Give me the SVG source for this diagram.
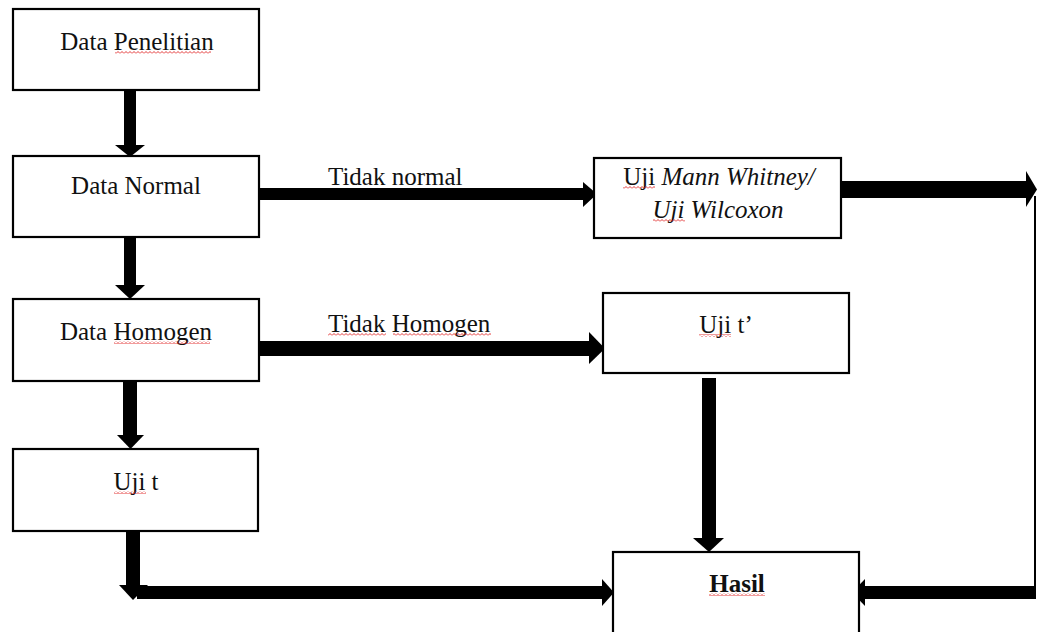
<svg xmlns="http://www.w3.org/2000/svg" width="1038" height="632" viewBox="0 0 1038 632">
<defs>
<style>
.box{fill:#fff;stroke:#000;stroke-width:2.2}
.t{font-family:"Liberation Serif","Times New Roman",serif;font-size:25px;fill:#111}
.c{text-anchor:middle}
.arr{fill:#000}
.sq{fill:url(#sq)}
</style>
<pattern id="sq" x="0" y="0" width="4" height="3" patternUnits="userSpaceOnUse">
<path d="M0 2.5 L2 0.5 L4 2.5" fill="none" stroke="#e02020" stroke-width="0.9"/>
</pattern>
</defs>
<rect width="1038" height="632" fill="#fff"/>

<g id="connectors">
<!-- Data Penelitian -> Data Normal -->
<rect class="arr" x="124" y="90" width="12" height="55"/>
<polygon class="arr" points="115,145 145,145 130,157"/>
<!-- Data Normal -> Data Homogen -->
<rect class="arr" x="124" y="237" width="12" height="48"/>
<polygon class="arr" points="115,285 145,285 130,299"/>
<!-- Data Homogen -> Uji t -->
<rect class="arr" x="123" y="381" width="14" height="54"/>
<polygon class="arr" points="117,435 144,435 130.5,449"/>
<!-- Uji t -> Hasil -->
<rect class="arr" x="126" y="531" width="14" height="55"/>
<polygon class="arr" points="119,585 148,585 133,600"/>
<rect class="arr" x="137" y="586" width="466" height="13"/>
<polygon class="arr" points="602,579 602,606 614,592.5"/>
<!-- Data Normal -> Mann Whitney (Tidak normal) -->
<rect class="arr" x="259" y="188" width="325" height="12"/>
<polygon class="arr" points="583,182 583,207 597,194"/>
<!-- Data Homogen -> Uji t' (Tidak Homogen) -->
<rect class="arr" x="259" y="341" width="331" height="15"/>
<polygon class="arr" points="589,332 589,364 605,348.5"/>
<!-- Mann Whitney -> Hasil -->
<rect class="arr" x="841" y="181" width="186" height="17"/>
<polygon class="arr" points="1026,171 1026,207 1037,189.5"/>
<line x1="1035" y1="196" x2="1035" y2="590" stroke="#000" stroke-width="2"/>
<rect class="arr" x="864" y="586" width="172" height="13"/>
<polygon class="arr" points="865,579 865,606 852,592.5"/>
<!-- Uji t' -> Hasil -->
<rect class="arr" x="702" y="378" width="14" height="161"/>
<polygon class="arr" points="693,538 724,538 709,552"/>
</g>

<g id="labels">
<text class="t" x="328" y="185">Tidak normal</text>
<text class="t" x="328" y="332">Tidak Homogen</text>
<rect class="sq" x="328" y="333" width="58" height="3"/>
<rect class="sq" x="393" y="333" width="98" height="3"/>
</g>

<g id="data-penelitian">
<rect class="box" x="13" y="9" width="246" height="81"/>
<text class="t c" x="137" y="50">Data Penelitian</text>
<rect class="sq" x="115" y="51" width="96" height="3"/>
</g>

<g id="data-normal">
<rect class="box" x="13" y="156" width="246" height="81"/>
<text class="t c" x="136" y="194">Data Normal</text>
</g>

<g id="data-homogen">
<rect class="box" x="13" y="299" width="246" height="82"/>
<text class="t c" x="136" y="340">Data Homogen</text>
<rect class="sq" x="114" y="341" width="96" height="3"/>
</g>

<g id="uji-t">
<rect class="box" x="13" y="449" width="245" height="82"/>
<text class="t c" x="136" y="490">Uji t</text>
<rect class="sq" x="114" y="491" width="32" height="3"/>
</g>

<g id="mann-whitney">
<rect class="box" x="594" y="158" width="247" height="80"/>
<text class="t c" x="719" y="185">Uji <tspan font-style="italic">Mann Whitney/</tspan></text>
<text class="t c" x="718" y="218" font-style="italic">Uji Wilcoxon</text>
<rect class="sq" x="623" y="186" width="32" height="3"/>
<rect class="sq" x="653" y="219" width="32" height="3"/>
</g>

<g id="uji-t-aksen">
<rect class="box" x="603" y="293" width="246" height="80"/>
<text class="t c" x="726" y="333">Uji t’</text>
<rect class="sq" x="699" y="334" width="32" height="3"/>
</g>

<g id="hasil">
<rect class="box" x="613" y="552" width="246" height="90"/>
<text class="t c" x="737" y="592" font-weight="bold">Hasil</text>
<rect class="sq" x="709" y="593" width="56" height="3"/>
</g>
</svg>
